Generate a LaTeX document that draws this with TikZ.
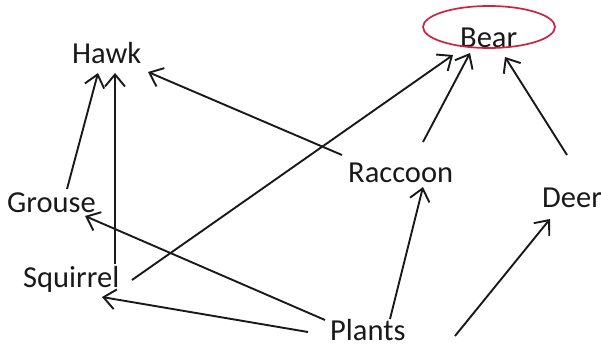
\documentclass[tikz,border=0pt]{standalone}
\usepackage{fontspec}
\setmainfont{Carlito}
\usetikzlibrary{arrows.meta,calc}
\definecolor{circred}{RGB}{205,35,65}
\definecolor{ink}{RGB}{25,25,25}
\tikzset{
  lbl/.style={anchor=base west,inner sep=0pt,text=ink,font=\fontsize{30.5}{32}\selectfont},
  conn/.style={ink,line width=1.9pt,-{Straight Barb[length=12pt,width=20pt,line width=1.9pt]}}
}
\begin{document}
\begin{tikzpicture}[x=1pt,y=-1pt]
\useasboundingbox (0,0) rectangle (601,348);
\node[lbl] (Hawk) at (72,63) {Hawk};
\node[lbl] (Bear) at (460,47) {Bear};
\node[lbl] (Raccoon) at (348,182) {Raccoon};
\node[lbl] (Grouse) at (7,212) {Grouse};
\node[lbl] (Squirrel) at (23,287) {Squirrel};
\node[lbl] (Plants) at (330,340) {Plants};
\node[lbl] (Deer) at (542,207) {Deer};
% red ellipse around Bear
\draw[circred,line width=1.7pt] ($(Bear.base west)+(29,-20)$) ellipse [x radius=66, y radius=21];
% connectors
\draw[conn] ($(Grouse.base west)+(60,-23)$) -- ($(Hawk.base west)+(26,10)$);
\draw[conn] ($(Squirrel.base west)+(92,-23)$) -- ($(Hawk.base west)+(43,10)$);
\draw[conn] ($(Raccoon.base west)+(-6,-27)$) -- ($(Hawk.base west)+(76,9)$);
\draw[conn] ($(Squirrel.base west)+(109,-7)$) -- ($(Bear.base west)+(-7,8)$);
\draw[conn] ($(Raccoon.base west)+(75,-40)$) -- ($(Bear.base west)+(10,6)$);
\draw[conn] ($(Deer.base west)+(25,-52)$) -- ($(Bear.base west)+(45,10)$);
\draw[conn] ($(Plants.base west)+(-5,-20)$) -- ($(Grouse.base west)+(78,4)$);
\draw[conn] ($(Plants.base west)+(-22,-8)$) -- ($(Squirrel.base west)+(79,10)$);
\draw[conn] ($(Plants.base west)+(60,-21)$) -- ($(Raccoon.base west)+(75,5)$);
\draw[conn] ($(Plants.base west)+(125,-4)$) -- ($(Deer.base west)+(8,12)$);
\end{tikzpicture}
\end{document}
